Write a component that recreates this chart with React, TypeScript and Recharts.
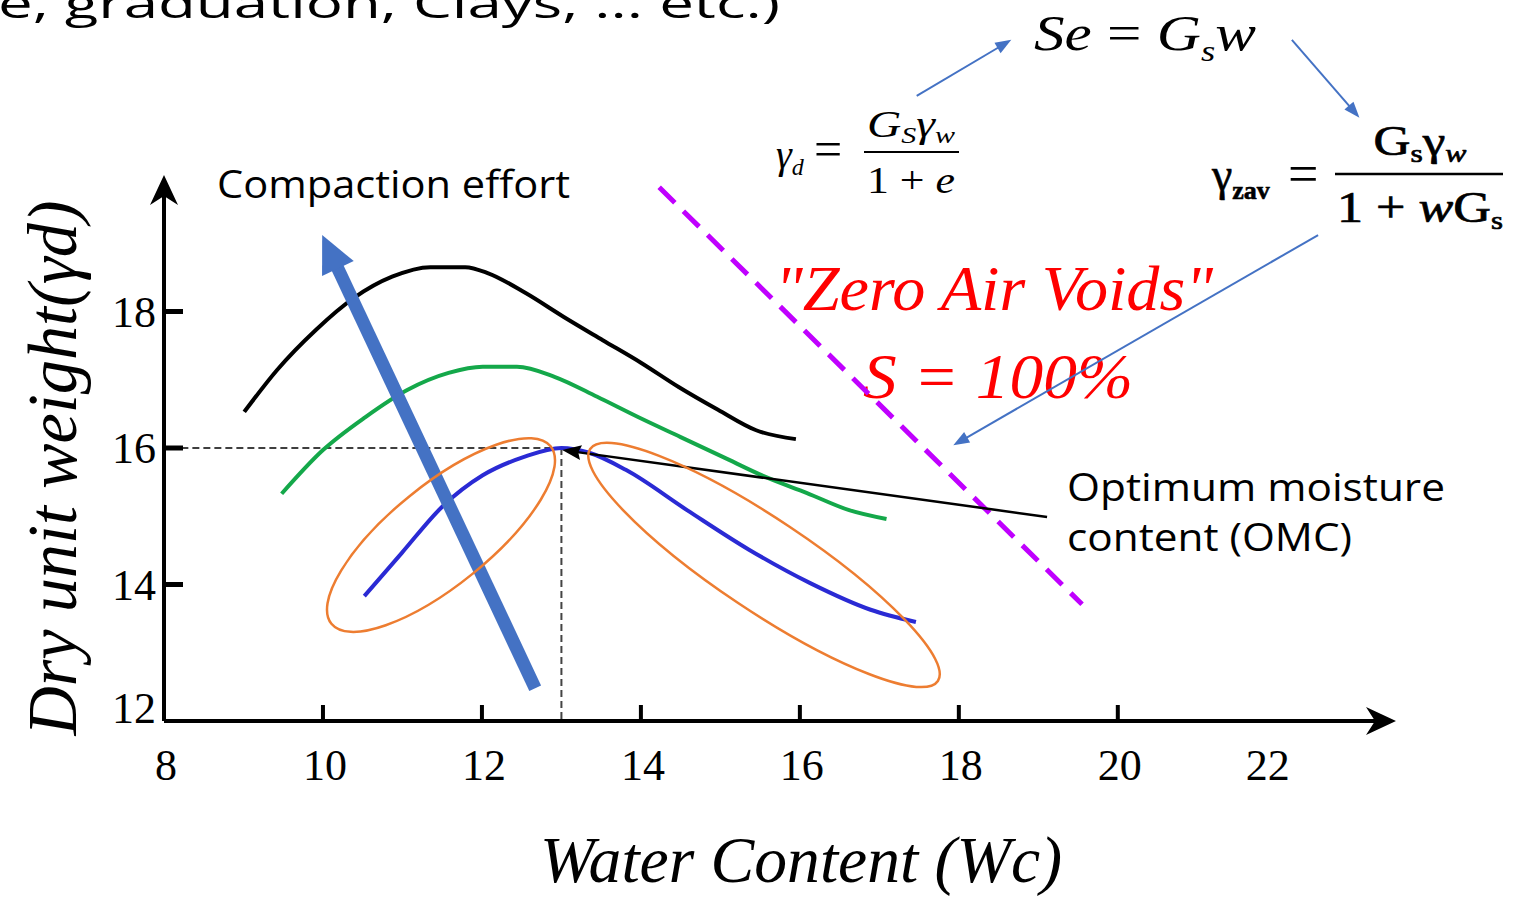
import { LineChart, Line, XAxis, YAxis, ReferenceLine, ReferenceDot } from 'recharts'

// compaction curves, water content (%) vs dry unit weight
const blackW = [9.01, 9.42, 9.91, 10.39, 10.87, 11.35, 11.79, 12.08, 12.55, 13.03, 13.52, 14.0, 14.48, 14.97, 15.45, 15.95]
const blackGamma = [16.53, 17.14, 17.73, 18.2, 18.51, 18.65, 18.65, 18.56, 18.27, 17.92, 17.58, 17.25, 16.89, 16.56, 16.26, 16.13]

const greenW = [9.48, 10.0, 10.53, 11.06, 11.58, 12.01, 12.44, 12.92, 13.45, 13.97, 14.5, 15.03, 15.56, 16.09, 16.62, 17.09]
const greenGamma = [15.33, 15.97, 16.45, 16.85, 17.1, 17.19, 17.19, 17.04, 16.75, 16.45, 16.16, 15.87, 15.58, 15.34, 15.09, 14.96]

const blueW = [10.52, 10.99, 11.5, 12.01, 12.53, 13.0, 13.35, 13.81, 14.58, 15.36, 16.13, 16.89, 17.46]
const blueGamma = [13.83, 14.46, 15.14, 15.6, 15.87, 16.0, 15.93, 15.68, 15.09, 14.51, 14.02, 13.63, 13.45]

const X_TICKS = [8, 10, 12, 14, 16, 18, 20, 22]
const Y_TICKS = [12, 14, 16, 18]

const OMC = { w: 13, g: 16 }

const toRows = (w: number[], g: number[]) => w.map((v, i) => ({ w: v, g: g[i] }))

const blackData = toRows(blackW, blackGamma)
const greenData = toRows(greenW, greenGamma)
const blueData = toRows(blueW, blueGamma)

const SERIF = 'Liberation Serif, Times New Roman, serif'
const SANS = 'Open Sans, Noto Sans, sans-serif'

// line with an arrow head drawn at (x2, y2)
const arrowShape = (color: string, width: number, headLen: number, headWidth: number, notch = 0) =>
  (props: any) => {
    const { x1, y1, x2, y2 } = props
    const a = Math.atan2(y2 - y1, x2 - x1)
    const ux = Math.cos(a)
    const uy = Math.sin(a)
    const nx = -uy
    const ny = ux
    const bx = x2 - headLen * ux
    const by = y2 - headLen * uy
    const mx = x2 - headLen * (1 - notch) * ux
    const my = y2 - headLen * (1 - notch) * uy
    const pts = [
      [x2, y2],
      [bx + (nx * headWidth) / 2, by + (ny * headWidth) / 2],
      [mx, my],
      [bx - (nx * headWidth) / 2, by - (ny * headWidth) / 2],
    ]
    return (
      <g>
        <line x1={x1} y1={y1} x2={mx + ux} y2={my + uy} stroke={color} strokeWidth={width} />
        <polygon points={pts.map((p) => p.join(',')).join(' ')} fill={color} />
      </g>
    )
  }

const ellipseShape = (rx: number, ry: number, angle: number) => (props: any) => {
  const { cx, cy } = props
  return (
    <ellipse
      cx={cx}
      cy={cy}
      rx={rx}
      ry={ry}
      transform={`rotate(${angle} ${cx} ${cy})`}
      fill="none"
      stroke="#ED7D31"
      strokeWidth={2.5}
    />
  )
}

const XTick = ({ x, y, payload }: any) => {
  const v = payload.value
  return (
    <g>
      {v >= 10 && v <= 20 && <line x1={x} y1={y} x2={x} y2={y - 16} stroke="#000" strokeWidth={4} />}
      <text x={x + (v === 22 ? -9 : 2)} y={y + 59} textAnchor="middle" fontFamily={SERIF} fontSize={44} fill="#000">
        {v}
      </text>
    </g>
  )
}

const YTick = ({ x, y, payload }: any) => {
  const v = payload.value
  return (
    <g>
      {v !== 12 && <line x1={x} y1={y} x2={x + 19} y2={y} stroke="#000" strokeWidth={5} />}
      <text x={x - 8} y={v === 12 ? y + 2 : y + 15} textAnchor="end" fontFamily={SERIF} fontSize={44} fill="#000">
        {v}
      </text>
    </g>
  )
}

function Annotations() {
  return (
    <svg width={1517} height={901} style={{ position: 'absolute', left: 0, top: 0 }}>
      <text x={-2} y={18} fontFamily={SANS} fontSize={40} textLength={782} lengthAdjust="spacingAndGlyphs">
        e, graduation, Clays, ... etc.)
      </text>
      <text x={217} y={198} fontFamily={SANS} fontSize={39} textLength={353} lengthAdjust="spacingAndGlyphs">
        Compaction effort
      </text>
      <text x={1067} y={501} fontFamily={SANS} fontSize={38} textLength={378} lengthAdjust="spacingAndGlyphs">
        Optimum moisture
      </text>
      <text x={1067} y={551} fontFamily={SANS} fontSize={38} textLength={285} lengthAdjust="spacingAndGlyphs">
        content (OMC)
      </text>

      <text x={775} y={310} fontFamily={SERIF} fontStyle="italic" fontSize={64} fill="#ff0000" textLength={438} lengthAdjust="spacingAndGlyphs">
        "Zero Air Voids"
      </text>
      <text x={863} y={398} fontFamily={SERIF} fontStyle="italic" fontSize={64} fill="#ff0000" textLength={270} lengthAdjust="spacingAndGlyphs">
        S = 100%
      </text>

      {/* Se = Gs w */}
      <text x={1034} y={50} fontFamily={SERIF} fontSize={50} textLength={222} lengthAdjust="spacingAndGlyphs">
        <tspan fontStyle="italic">Se</tspan>
        <tspan> = </tspan>
        <tspan fontStyle="italic">G</tspan>
        <tspan fontStyle="italic" fontSize={30} dy={11}>s</tspan>
        <tspan fontStyle="italic" dy={-11}>w</tspan>
      </text>

      {/* gamma_d = Gs gamma_w / (1 + e) */}
      <text x={776} y={168} fontFamily={SERIF} fontSize={40}>
        <tspan fontStyle="italic">γ</tspan>
        <tspan fontStyle="italic" fontSize={24} dy={7}>d</tspan>
      </text>
      <text x={814} y={166} fontFamily={SERIF} fontSize={50}>=</text>
      <line x1={864} y1={152} x2={959} y2={152} stroke="#000" strokeWidth={2} />
      <text x={911} y={137} textAnchor="middle" fontFamily={SERIF} fontSize={38} textLength={88} lengthAdjust="spacingAndGlyphs">
        <tspan fontStyle="italic">G</tspan>
        <tspan fontStyle="italic" fontSize={24} dy={6}>S</tspan>
        <tspan fontStyle="italic" dy={-6}>γ</tspan>
        <tspan fontStyle="italic" fontSize={24} dy={6}>w</tspan>
      </text>
      <text x={911} y={193} textAnchor="middle" fontFamily={SERIF} fontSize={38} textLength={88} lengthAdjust="spacingAndGlyphs">
        <tspan>1 + </tspan>
        <tspan fontStyle="italic">e</tspan>
      </text>

      {/* gamma_zav = Gs gamma_w / (1 + w Gs) */}
      <text x={1212} y={190} fontFamily={SERIF} fontSize={46} stroke="#000" strokeWidth={0.6}>
        <tspan>γ</tspan>
        <tspan fontSize={26} fontWeight="bold" dy={9}>zav</tspan>
      </text>
      <text x={1288} y={192} fontFamily={SERIF} fontSize={54}>=</text>
      <line x1={1335} y1={174} x2={1503} y2={174} stroke="#000" strokeWidth={2.5} />
      <text x={1420} y={155} textAnchor="middle" fontFamily={SERIF} fontSize={42} stroke="#000" strokeWidth={0.7} textLength={93} lengthAdjust="spacingAndGlyphs">
        <tspan>G</tspan>
        <tspan fontSize={26} dy={7}>s</tspan>
        <tspan dy={-7}>γ</tspan>
        <tspan fontStyle="italic" fontSize={26} dy={7}>w</tspan>
      </text>
      <text x={1420} y={222} textAnchor="middle" fontFamily={SERIF} fontSize={44} stroke="#000" strokeWidth={0.7} textLength={166} lengthAdjust="spacingAndGlyphs">
        <tspan>1 + </tspan>
        <tspan fontStyle="italic">w</tspan>
        <tspan>G</tspan>
        <tspan fontSize={26} dy={7}>s</tspan>
      </text>

      {/* axis titles */}
      <text
        transform="translate(76 468) rotate(-90)"
        textAnchor="middle"
        fontFamily={SERIF}
        fontStyle="italic"
        fontSize={70}
        textLength={535}
        lengthAdjust="spacingAndGlyphs"
      >
        Dry unit weight(γd)
      </text>
      <text x={801} y={882} textAnchor="middle" fontFamily={SERIF} fontStyle="italic" fontSize={65} textLength={522} lengthAdjust="spacingAndGlyphs">
        Water Content (Wc)
      </text>
    </svg>
  )
}

export default function App() {
  return (
    <div style={{ position: 'absolute', left: 0, top: 0, width: 1517, height: 901, background: '#fff', overflow: 'hidden' }}>
      <Annotations />
      <div style={{ position: 'absolute', left: 0, top: 0 }}>
        <LineChart width={1517} height={901} margin={{ top: 175, right: 121, bottom: 100, left: 84 }}>
          <XAxis
            type="number"
            dataKey="w"
            domain={[8, 23.5]}
            ticks={X_TICKS}
            interval={0}
            axisLine={false}
            tickLine={false}
            tickSize={0}
            tickMargin={0}
            height={80}
            tick={<XTick />}
            allowDataOverflow
          />
          <YAxis
            type="number"
            domain={[12, 20]}
            ticks={Y_TICKS}
            interval={0}
            axisLine={false}
            tickLine={false}
            tickSize={0}
            tickMargin={0}
            width={80}
            tick={<YTick />}
            allowDataOverflow
          />

          {/* OMC guide lines */}
          <ReferenceLine segment={[{ x: 8.08, y: OMC.g }, { x: OMC.w - 0.05, y: OMC.g }]} stroke="#000" strokeWidth={1.5} strokeDasharray="7 4" ifOverflow="visible" />
          <ReferenceLine segment={[{ x: OMC.w, y: OMC.g }, { x: OMC.w, y: 12 }]} stroke="#444" strokeWidth={2} strokeDasharray="7 4" ifOverflow="visible" />

          {/* zero air voids line */}
          <ReferenceLine segment={[{ x: 14.23, y: 19.82 }, { x: 19.55, y: 13.71 }]} stroke="#c000ff" strokeWidth={5} strokeDasharray="22 12" ifOverflow="visible" />

          <Line data={blackData} dataKey="g" type="monotone" stroke="#000" strokeWidth={4} dot={false} activeDot={false} isAnimationActive={false} />
          <Line data={greenData} dataKey="g" type="monotone" stroke="#14a84a" strokeWidth={4} dot={false} activeDot={false} isAnimationActive={false} />
          <Line data={blueData} dataKey="g" type="monotone" stroke="#2a2ad4" strokeWidth={4} dot={false} activeDot={false} isAnimationActive={false} />

          {/* dry / wet side ellipses */}
          <ReferenceDot x={11.485} y={14.725} r={1} shape={ellipseShape(141, 50, -39)} ifOverflow="visible" />
          <ReferenceDot x={15.549} y={14.286} r={1} shape={ellipseShape(209, 46, 33.7)} ifOverflow="visible" />

          {/* axes with arrow heads */}
          <ReferenceLine segment={[{ x: 8, y: 12 }, { x: 23.5, y: 12 }]} shape={arrowShape('#000', 4, 30, 28, 0.3)} ifOverflow="visible" />
          <ReferenceLine segment={[{ x: 8, y: 12 }, { x: 8, y: 20 }]} shape={arrowShape('#000', 4, 30, 28, 0.3)} ifOverflow="visible" />

          {/* compaction effort arrow */}
          <ReferenceLine segment={[{ x: 12.67, y: 12.48 }, { x: 9.99, y: 19.12 }]} shape={arrowShape('#4472C4', 13, 37, 35)} ifOverflow="visible" />

          {/* pointer to OMC */}
          <ReferenceLine segment={[{ x: 19.11, y: 14.99 }, { x: 13.01, y: 15.97 }]} shape={arrowShape('#000', 2.5, 19, 15, 0.15)} ifOverflow="visible" />

          {/* formula links */}
          <ReferenceLine segment={[{ x: 17.47, y: 21.16 }, { x: 18.66, y: 21.98 }]} shape={arrowShape('#4472C4', 2, 16, 12)} ifOverflow="visible" />
          <ReferenceLine segment={[{ x: 22.19, y: 21.98 }, { x: 23.04, y: 20.84 }]} shape={arrowShape('#4472C4', 2, 16, 12)} ifOverflow="visible" />
          <ReferenceLine segment={[{ x: 22.52, y: 19.12 }, { x: 17.93, y: 16.04 }]} shape={arrowShape('#4472C4', 2, 16, 12)} ifOverflow="visible" />
        </LineChart>
      </div>
    </div>
  )
}
